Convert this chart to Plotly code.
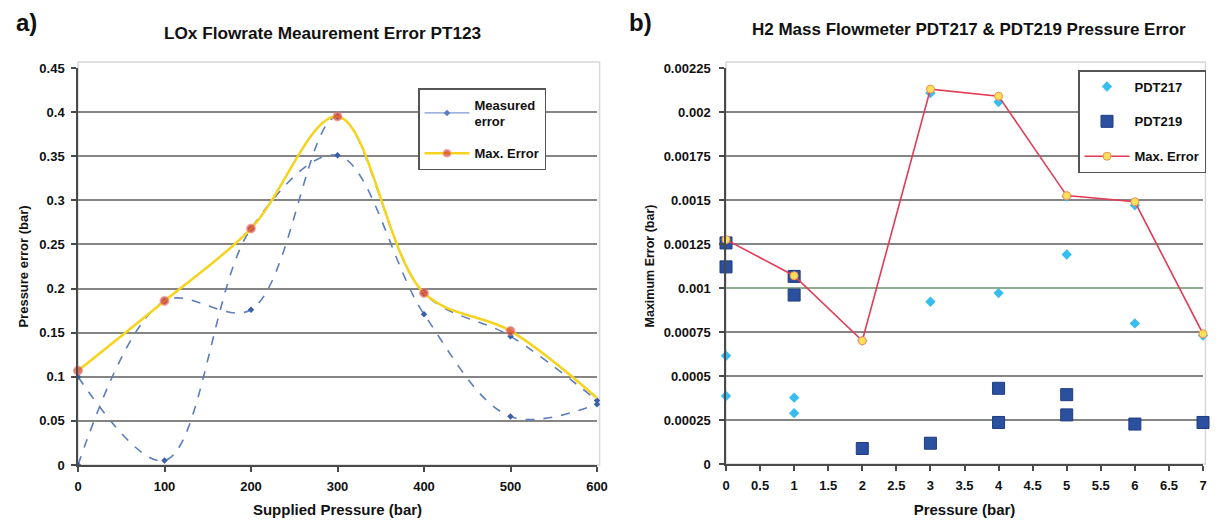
import plotly.graph_objects as go

# ---------------- data: panel a ----------------
lox_x = [0, 100, 200, 300, 400, 500, 600]
meas_a_y = [0.0, 0.186, 0.176, 0.395, 0.195, 0.146, 0.073]
meas_b_y = [0.100, 0.005, 0.268, 0.351, 0.171, 0.055, 0.069]
max_err_a_y = [0.107, 0.186, 0.268, 0.395, 0.195, 0.152, 0.076]
max_err_a_marker = [9, 9, 9, 9, 9, 9, 0]

# ---------------- data: panel b ----------------
pdt217_x = [0, 0, 1, 1, 2, 3, 3, 4, 4, 5, 5, 6, 6, 7]
pdt217_y = [0.000615, 0.000386, 0.000377, 0.000289, 0.0007, 0.002108, 0.000922,
            0.002057, 0.000971, 0.00152, 0.00119, 0.00147, 0.000799, 0.00073]
pdt219_x = [0, 0, 1, 1, 2, 3, 4, 4, 5, 5, 6, 7]
pdt219_y = [0.001256, 0.00112, 0.001066, 0.00096, 0.000088, 0.000118, 0.00043,
            0.000236, 0.000394, 0.000279, 0.000227, 0.000236]
max_b_x = [0, 1, 2, 3, 4, 5, 6, 7]
max_b_y = [0.001275, 0.00107, 0.0007, 0.00213, 0.00209, 0.001525, 0.00149, 0.00074]
limit_b_x = [0, 7]
limit_b_y = [0.001, 0.001]

# page body has an 8px margin, so the figure is sized to fit the window inside it
OFF = 8
W, H = 1220 - 2 * OFF, 526 - 2 * OFF
FONT = "Liberation Sans, Arial, sans-serif"

def px_x(p):
    return (p - OFF) / W

def px_y(p):
    return 1 - (p - OFF) / H

fig = go.Figure()

# panel a traces
meas_color = "#5d7cbc"
fig.add_trace(go.Scatter(
    x=lox_x, y=meas_a_y, mode="lines+markers", name="Measured error", showlegend=False,
    line=dict(color=meas_color, width=1.6, dash="dash", shape="spline", smoothing=1),
    marker=dict(symbol="diamond", size=5, color="#3b5ea8"), cliponaxis=False,
    xaxis="x", yaxis="y", legend="legend", legendgroup="m"))
fig.add_trace(go.Scatter(
    x=lox_x, y=meas_b_y, mode="lines+markers", name="Measured error", showlegend=False,
    line=dict(color=meas_color, width=1.6, dash="dash", shape="spline", smoothing=1),
    marker=dict(symbol="diamond", size=5, color="#3b5ea8"), cliponaxis=False,
    xaxis="x", yaxis="y", legend="legend", legendgroup="m"))
# legend entry for the measured error (solid sample line as in the original legend)
fig.add_trace(go.Scatter(
    x=[None], y=[None], mode="lines+markers", name="Measured<br>error",
    line=dict(color="#7f9ad6", width=1.3),
    marker=dict(symbol="diamond", size=5, color="#5a7cc4"),
    xaxis="x", yaxis="y", legend="legend", legendgroup="m"))
fig.add_trace(go.Scatter(
    x=lox_x, y=max_err_a_y, mode="lines+markers", name="Max. Error",
    line=dict(color="#f6d31c", width=2.5, shape="spline", smoothing=1),
    marker=dict(symbol="circle", size=max_err_a_marker, color="#d8403a",
                line=dict(color="#f08a80", width=1)), cliponaxis=False,
    xaxis="x", yaxis="y", legend="legend", legendgroup="x"))

# panel b traces
fig.add_trace(go.Scatter(
    x=limit_b_x, y=limit_b_y, mode="lines", showlegend=False, hoverinfo="skip",
    line=dict(color="#93bb93", width=1.5), xaxis="x2", yaxis="y2", legend="legend2"))
fig.add_trace(go.Scatter(
    x=pdt217_x, y=pdt217_y, mode="markers", name="PDT217",
    marker=dict(symbol="diamond", size=8, color="#38bdf0"), cliponaxis=False,
    xaxis="x2", yaxis="y2", legend="legend2", legendgroup="a"))
fig.add_trace(go.Scatter(
    x=pdt219_x, y=pdt219_y, mode="markers", name="PDT219",
    marker=dict(symbol="square", size=12, color="#2c50a0", line=dict(color="#1d3b80", width=1)),
    cliponaxis=False, xaxis="x2", yaxis="y2", legend="legend2", legendgroup="b"))
fig.add_trace(go.Scatter(
    x=max_b_x, y=max_b_y, mode="lines+markers", name="Max. Error",
    line=dict(color="#e23c55", width=1.6),
    marker=dict(symbol="circle", size=8, color="#fde05a", line=dict(color="#f2905a", width=1)),
    cliponaxis=False, xaxis="x2", yaxis="y2", legend="legend2", legendgroup="c"))

axis_common = dict(
    showline=True, linecolor="#4a4a4a", linewidth=1.5, ticks="outside", ticklen=5,
    tickcolor="#4a4a4a", tickwidth=1.5, zeroline=False, automargin=False,
)

tick13 = dict(family=FONT, size=13, color="#111", weight="bold")

fig.update_layout(
    width=W, height=H, margin=dict(l=0, r=0, t=0, b=0, autoexpand=False),
    paper_bgcolor="white", plot_bgcolor="white",
    font=dict(family=FONT, color="#111"),
    xaxis=dict(domain=[px_x(78), px_x(597)], range=[0, 600], dtick=100, showgrid=False,
               anchor="y", tickfont=tick13, ticklabelstandoff=4,
               title=dict(text="Supplied Pressure (bar)", standoff=20,
                          font=dict(family=FONT, size=15, weight="bold")),
               **axis_common),
    yaxis=dict(domain=[px_y(465), px_y(68)], range=[0, 0.45], dtick=0.05, anchor="x",
               showgrid=True, gridcolor="#858585", gridwidth=1.5, tickfont=tick13,
               ticklabelstandoff=4,
               title=dict(text="Pressure error (bar)", standoff=8,
                          font=dict(family=FONT, size=13, weight="bold")),
               **axis_common),
    xaxis2=dict(domain=[px_x(726), px_x(1203)], range=[0, 7], dtick=0.5, showgrid=False,
                anchor="y2", tickfont=tick13, ticklabelstandoff=4,
                title=dict(text="Pressure (bar)", standoff=20,
                           font=dict(family=FONT, size=15, weight="bold")),
                **axis_common),
    yaxis2=dict(domain=[px_y(464), px_y(68)], range=[0, 0.00225], dtick=0.00025, anchor="x2",
                tickformat=".5~f", ticklabelstandoff=6,
                tickfont=dict(family=FONT, size=13, color="#111", weight="bold"),
                showgrid=True, gridcolor="#858585", gridwidth=1.5,
                title=dict(text="Maximum Error (bar)", standoff=6,
                           font=dict(family=FONT, size=12.5, weight="bold")),
                **axis_common),
    legend=dict(x=px_x(418), y=px_y(88), xanchor="left", yanchor="top",
                bgcolor="white", bordercolor="#555", borderwidth=1.5,
                font=dict(family=FONT, size=13, color="#111", weight="bold"),
                traceorder="grouped", tracegroupgap=12, itemwidth=45),
    legend2=dict(x=px_x(1078), y=px_y(70), xanchor="left", yanchor="top",
                 bgcolor="white", bordercolor="#555", borderwidth=1.5,
                 font=dict(family=FONT, size=13, color="#111", weight="bold"),
                 traceorder="grouped", tracegroupgap=15, itemwidth=45),
    showlegend=True,
)

# faint frames around plot areas
for xr, yr in (("x domain", "y domain"), ("x2 domain", "y2 domain")):
    fig.add_shape(type="rect", xref=xr, yref=yr, x0=0, x1=1.005, y0=0, y1=1.015,
                  line=dict(color="#d8d8d8", width=1.5), layer="below")

annotations = [
    dict(text="LOx Flowrate Meaurement Error PT123", x=px_x(322), y=px_y(33),
         font=dict(size=17.2, weight="bold")),
    dict(text="H2 Mass Flowmeter PDT217 & PDT219 Pressure Error", x=px_x(969), y=px_y(30),
         font=dict(size=17, weight="bold")),
    dict(text="a)", x=px_x(26), y=px_y(22), font=dict(size=24, weight="bold")),
    dict(text="b)", x=px_x(640), y=px_y(22), font=dict(size=24, weight="bold")),
]
for a in annotations:
    a["font"]["family"] = FONT
    a["font"]["color"] = "#111"
    fig.add_annotation(xref="paper", yref="paper", showarrow=False,
                       xanchor="center", yanchor="middle", **a)

fig.write_html("out.html")
